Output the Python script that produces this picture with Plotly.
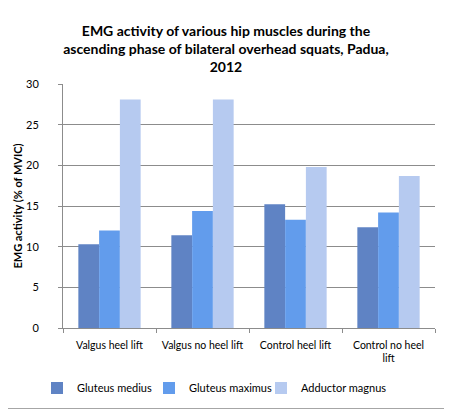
import plotly.graph_objects as go

categories = ["Valgus heel lift", "Valgus no heel lift", "Control heel lift", "Control no heel<br>lift"]
gluteus_medius = [10.3, 11.4, 15.2, 12.4]
gluteus_maximus = [12.0, 14.4, 13.3, 14.2]
adductor_magnus = [28.1, 28.1, 19.8, 18.7]

# the page body has an 8px margin, so the figure is laid out 8px smaller
OFF = 8
W, H = 452 - OFF, 411 - OFF
ml, mr, mt, mb = 63 - OFF, 17, 84 - OFF, 83
font = "Lato"

fig = go.Figure()
series = [("Gluteus medius", gluteus_medius, "#5f83c4", 67),
          ("Gluteus maximus", gluteus_maximus, "#629cec", 67),
          ("Adductor magnus", adductor_magnus, "#b6caf0", 96)]
for name, vals, col, lw in series:
    fig.add_trace(go.Bar(x=categories, y=vals, name=name, legendwidth=lw,
                         marker=dict(color=col, line=dict(width=0))))

pw, ph = W - ml - mr, H - mt - mb
# grey frame (right and bottom edges; top/left fall in the page margin)
xr = 1 + (mr - 4) / pw
yb = -(mb - 2.5) / ph
fig.add_shape(type="line", xref="paper", yref="paper", x0=xr, x1=xr, y0=yb, y1=1 + mt / ph,
              line=dict(color="#a6a6a6", width=1))
fig.add_shape(type="line", xref="paper", yref="paper", x0=-ml / pw, x1=xr, y0=yb, y1=yb,
              line=dict(color="#a6a6a6", width=1))

fig.update_layout(
    width=W, height=H,
    margin=dict(l=ml, r=mr, t=mt, b=mb, autoexpand=False),
    paper_bgcolor="white", plot_bgcolor="white",
    font=dict(family=font, size=11, color="black"),
    title=dict(text="<b>EMG activity of various hip muscles during the<br>ascending phase of bilateral overhead squats, Padua,<br>2012</b>",
               x=(226 - OFF) / W, xanchor="center", yref="container",
               y=1 - (36 - OFF) / H, yanchor="middle",
               font=dict(family=font, size=14)),
    barmode="group", bargap=0.33, bargroupgap=0,
    xaxis=dict(showline=True, linecolor="#8c8c8c", ticks="outside", tickson="boundaries",
               ticklen=4, tickcolor="#8c8c8c", tickfont=dict(size=10.5), tickangle=0,
               ticklabelstandoff=7, automargin=False),
    yaxis=dict(range=[0, 30], dtick=5, showgrid=True, gridcolor="#8c8c8c",
               showline=True, linecolor="#8c8c8c", ticks="outside", ticklen=4,
               tickcolor="#8c8c8c", zeroline=False, tickfont=dict(size=11),
               ticklabelstandoff=17, automargin=True,
               title=dict(text="<b>EMG activity (% of MVIC)</b>", font=dict(size=11), standoff=1)),
    legend=dict(orientation="h", xref="container", x=(37 - OFF) / W, xanchor="left",
                yref="container", y=1 - (388 - OFF) / H, yanchor="middle",
                font=dict(size=11), itemwidth=30, entrywidth=67, entrywidthmode="pixels"),
)

fig.write_html("out.html")
